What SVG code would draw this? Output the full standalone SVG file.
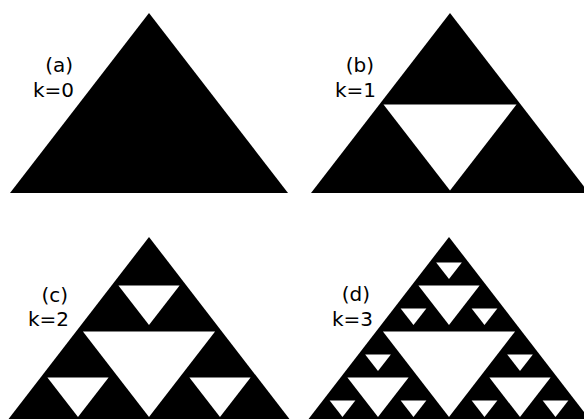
<svg xmlns="http://www.w3.org/2000/svg" width="584" height="419" viewBox="0 0 584 419">
  <style>
    .solid { fill: #000; }
    .hole { fill: #fff; }
    .lbl { font-family: "DejaVu Sans", "Liberation Sans", sans-serif; font-size: 20px; fill: #000; text-anchor: end; }
  </style>
  <rect width="584" height="419" fill="#fff"/>

  <!-- (a) k=0 : plain filled triangle -->
  <g id="tri-a">
    <polygon class="solid" points="149,13 288,193 10,193"/>
    <text class="lbl" x="73" y="72">(a)</text>
    <text class="lbl" x="74" y="97">k=0</text>
  </g>

  <!-- (b) k=1 : one central hole (holes are inset slightly from the ideal midpoints) -->
  <g id="tri-b">
    <polygon class="solid" points="450,13 589,193 311,193"/>
    <polygon class="hole" points="383.5,104.5 516.5,104.5 450,190.5"/>
    <text class="lbl" x="374" y="72">(b)</text>
    <text class="lbl" x="376" y="97">k=1</text>
  </g>

  <!-- (c) k=2 -->
  <g id="tri-c">
    <polygon class="solid" points="149,237 291,421 7,421"/>
    <polygon class="hole" points="82.9,331.4 215.1,331.4 149,417.1"/>
    <polygon class="hole" points="118.4,285.4 179.6,285.4 149,325.1"/>
    <polygon class="hole" points="47.4,377.4 108.6,377.4 78,417.1"/>
    <polygon class="hole" points="189.4,377.4 250.6,377.4 220,417.1"/>
    <text class="lbl" x="68" y="302">(c)</text>
    <text class="lbl" x="69" y="326">k=2</text>
  </g>

  <!-- (d) k=3 -->
  <g id="tri-d">
    <polygon class="solid" points="449,237 591,421 307,421"/>
    <!-- level 1 -->
    <polygon class="hole" points="382.9,331.4 515.1,331.4 449,417.1"/>
    <!-- level 2 -->
    <polygon class="hole" points="418.4,285.4 479.6,285.4 449,325.1"/>
    <polygon class="hole" points="347.4,377.4 408.6,377.4 378,417.1"/>
    <polygon class="hole" points="489.4,377.4 550.6,377.4 520,417.1"/>
    <!-- level 3 -->
    <polygon class="hole" points="436.15,262.4 461.85,262.4 449,279.1"/>
    <polygon class="hole" points="400.65,308.4 426.35,308.4 413.5,325.1"/>
    <polygon class="hole" points="471.65,308.4 497.35,308.4 484.5,325.1"/>
    <polygon class="hole" points="365.15,354.4 390.85,354.4 378,371.1"/>
    <polygon class="hole" points="329.65,400.4 355.35,400.4 342.5,417.1"/>
    <polygon class="hole" points="400.65,400.4 426.35,400.4 413.5,417.1"/>
    <polygon class="hole" points="507.15,354.4 532.85,354.4 520,371.1"/>
    <polygon class="hole" points="471.65,400.4 497.35,400.4 484.5,417.1"/>
    <polygon class="hole" points="542.65,400.4 568.35,400.4 555.5,417.1"/>
    <text class="lbl" x="370" y="301">(d)</text>
    <text class="lbl" x="373" y="326">k=3</text>
  </g>
</svg>
